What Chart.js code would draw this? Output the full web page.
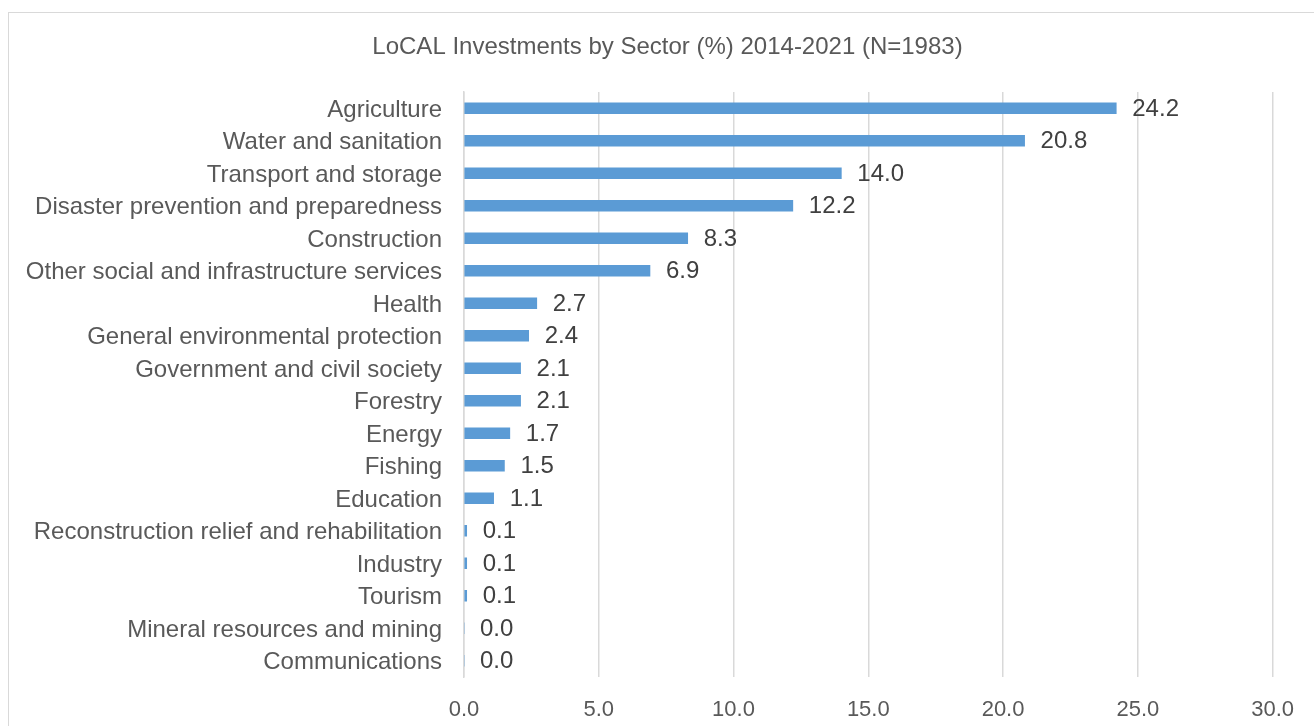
<!DOCTYPE html>
<html>
<head>
<meta charset="utf-8">
<title>LoCAL Investments by Sector</title>
<script src="https://cdn.jsdelivr.net/npm/chart.js@4/dist/chart.umd.min.js"></script>
<style>
  html, body { margin: 0; padding: 0; background: #fff; overflow: hidden; }
  #wrap { position: relative; width: 1314px; height: 726px; }
  #frame {
    position: absolute; left: 8px; top: 12px; width: 1320px; height: 730px;
    border: 1px solid #d9d9d9; box-sizing: border-box; pointer-events: none;
  }
</style>
</head>
<body>
<div id="wrap">
  <canvas id="sectorChart"></canvas>
  <div id="frame"></div>
</div>
<script>
// === DATA ===
const sectors = [
  "Agriculture", "Water and sanitation", "Transport and storage",
  "Disaster prevention and preparedness", "Construction",
  "Other social and infrastructure services", "Health",
  "General environmental protection", "Government and civil society",
  "Forestry", "Energy", "Fishing", "Education",
  "Reconstruction relief and rehabilitation", "Industry", "Tourism",
  "Mineral resources and mining", "Communications"
];
const shares = [24.2, 20.8, 14.0, 12.2, 8.3, 6.9, 2.7, 2.4, 2.1, 2.1, 1.7, 1.5, 1.1, 0.1, 0.1, 0.1, 0.0, 0.0];
const xTicks = [0, 5, 10, 15, 20, 25, 30];
const chartTitle = "LoCAL Investments by Sector (%) 2014-2021 (N=1983)";

const FONT = "'Liberation Sans', Arial, Helvetica, sans-serif";
const GREY_TEXT = "#595959";
const GRID = "#d9d9d9";

// title drawn over the whole frame (slightly right of canvas centre)
const frameTitle = {
  id: "frameTitle",
  afterDraw(chart) {
    const ctx = chart.ctx;
    ctx.save();
    ctx.font = "24px " + FONT;
    ctx.fillStyle = GREY_TEXT;
    ctx.textAlign = "center";
    ctx.textBaseline = "middle";
    ctx.fillText(chartTitle, (chart.width + 21) / 2, 47);
    ctx.restore();
  }
};

// value labels to the right of each bar
const barValues = {
  id: "barValues",
  afterDatasetsDraw(chart) {
    const ctx = chart.ctx;
    const meta = chart.getDatasetMeta(0);
    ctx.save();
    ctx.font = "24px " + FONT;
    ctx.fillStyle = "#404040";
    ctx.textAlign = "left";
    ctx.textBaseline = "middle";
    meta.data.forEach((bar, i) => {
      ctx.fillText(shares[i].toFixed(1), bar.x + 16, bar.y + 1);
    });
    ctx.restore();
  }
};

const ctx = document.getElementById("sectorChart").getContext("2d");
new Chart(ctx, {
  type: "bar",
  data: {
    labels: sectors,
    datasets: [{
      data: shares,
      backgroundColor: "#5b9bd5",
      barThickness: 11,
      borderWidth: 0
    }]
  },
  options: {
    indexAxis: "y",
    responsive: true,
    maintainAspectRatio: false,
    animation: false,
    layout: { padding: { left: 0, right: 41, top: 92, bottom: 0 } },
    plugins: {
      legend: { display: false },
      tooltip: { enabled: false },
      title: { display: false }
    },
    scales: {
      x: {
        min: xTicks[0],
        max: xTicks[xTicks.length - 1],
        afterBuildTicks: axis => { axis.ticks = xTicks.map(v => ({ value: v })); },
        afterFit: axis => { axis.height = 49; },
        grid: { color: GRID, lineWidth: 1.5, drawTicks: false },
        border: { display: false },
        ticks: {
          color: GREY_TEXT,
          padding: 20,
          font: { family: FONT, size: 22 },
          callback: v => Number(v).toFixed(1)
        }
      },
      y: {
        afterFit: axis => { axis.width = 464; },
        grid: { display: false, drawTicks: false },
        border: { display: true, color: GRID, width: 1.5 },
        ticks: {
          color: GREY_TEXT,
          padding: 22,
          labelOffset: 2,
          autoSkip: false,
          font: { family: FONT, size: 24 }
        }
      }
    }
  },
  plugins: [barValues, frameTitle]
});
</script>
</body>
</html>
